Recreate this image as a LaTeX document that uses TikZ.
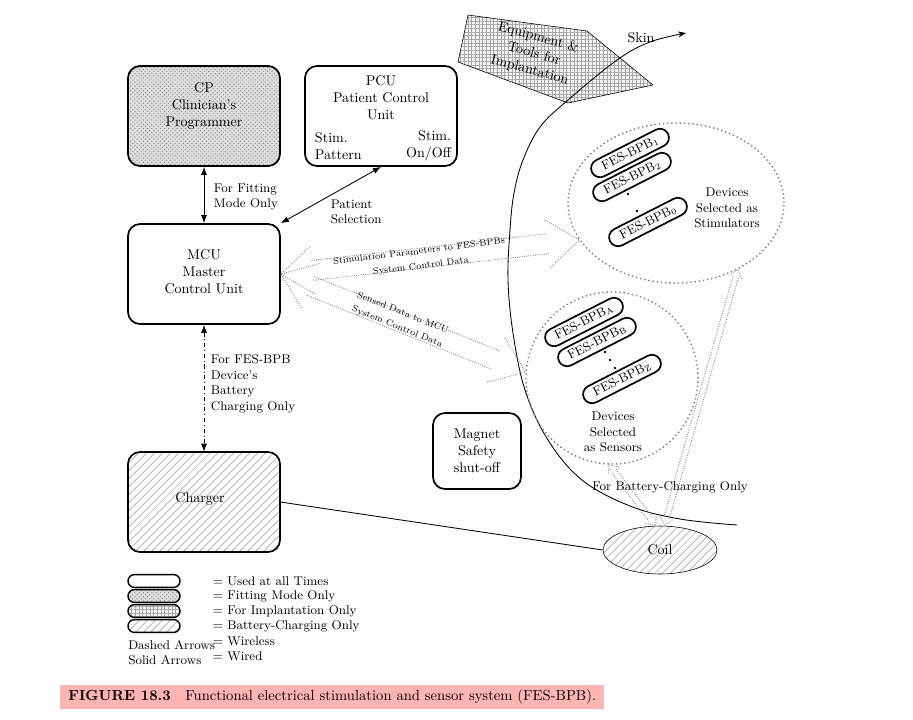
\documentclass[tikz,border=0pt]{standalone}
\usetikzlibrary{calc,shapes.geometric,shapes.misc,patterns,patterns.meta,arrows.meta}

\definecolor{capred}{RGB}{255,180,180}
\definecolor{paper}{RGB}{253,253,253}

\tikzset{
  unit/.style={draw, line width=1.2pt, rounded corners=3mm, minimum width=38mm, minimum height=25mm},
  fitting/.style={preaction={fill=gray!25}, pattern=crosshatch dots, pattern color=gray!90},
  charging/.style={pattern={Lines[angle=45,distance=4pt,line width=0.5pt]}, pattern color=gray!75},
  implant/.style={preaction={fill=gray!8}, pattern={Hatch[distance=2.6pt,line width=0.25pt]}, pattern color=gray!70},
  pill/.style={draw, line width=1.2pt, rounded rectangle, minimum width=22mm, minimum height=4.5mm, inner sep=1pt, font=\small},
  legendpill/.style={draw, line width=1pt, rounded rectangle, minimum width=13mm, minimum height=3.2mm, inner sep=0pt},
  wired/.style={line width=0.6pt, {Latex[length=2mm]}-{Latex[length=2mm]}},
  wireless/.style={gray, densely dotted, line width=0.6pt},
  zone/.style={draw=gray, dotted, line width=1pt},
  note/.style={font=\small, align=left, anchor=west},
  datatext/.style={font=\fontsize{6.5}{10.5}\selectfont, align=center},
}

% wireless link: head length, head half width, body half width, from, to
\newcommand\wlink[5]{%
  \draw[wireless] ($(#4)!#1!(#5)!#2!90:(#5)$) -- (#4) -- ($(#4)!#1!(#5)!#2!-90:(#5)$);
  \draw[wireless] ($(#5)!#1!(#4)!#2!90:(#4)$) -- (#5) -- ($(#5)!#1!(#4)!#2!-90:(#4)$);
  \draw[wireless] ($(#4)!#1!(#5)!#3!90:(#5)$) -- ($(#5)!#1!(#4)!#3!-90:(#4)$);
  \draw[wireless] ($(#4)!#1!(#5)!#3!-90:(#5)$) -- ($(#5)!#1!(#4)!#3!90:(#4)$);
}

\begin{document}
\begin{tikzpicture}[x=0.25mm, y=-0.25mm]
  \useasboundingbox (0,0) rectangle (913,719);
  \fill[paper] (127,14) rectangle (783,665);

  % units
  \node[unit, fitting] (CP) at (204,116) {};
  \node[align=center] (CPtext) at (204,106) {CP\\Clinician's\\Programmer};

  \node[unit] (PCU) at (381,116) {};
  \node[align=center] (PCUtext) at (381,98) {PCU\\Patient Control\\Unit};
  \node[align=left, anchor=west] (PCUpat) at (310,146) {Stim.\\Pattern};
  \node[align=right, anchor=east] (PCUon) at (456,146) {Stim.\\On/Off};

  \node[unit] (MCU) at (204,274) {};
  \node[align=center] (MCUtext) at (204,272) {MCU\\Master\\Control Unit};

  \node[unit, charging] (Charger) at (204,502) {};
  \node (Chtext) at (200,499) {Charger};

  \node[draw, line width=1.2pt, rounded corners=3mm, minimum width=22mm, minimum height=19mm,
        align=center] (Magnet) at (477,451) {Magnet\\Safety\\shut-off};

  \node[draw, ellipse, charging, minimum width=28.5mm, minimum height=12mm] (Coil) at (660,550) {Coil};

  % equipment and skin
  \draw[implant] (468,15) -- (587,31) -- (653,85) -- (568,103) -- (458,62) -- cycle;
  \node[align=center, rotate=-15] (Equip) at (534,54) {Equipment \&\\Tools for\\Implantation};

  \draw[line width=0.6pt, -{Stealth[length=2mm]}] plot[smooth, tension=0.6] coordinates {
    (737,525) (680,519) (630,506) (582,480) (548,440) (525,390) (513,333) (508,280)
    (510,230) (514,193) (523,160) (540,127) (568,100) (617,60) (650,42) (686,33)};
  \node (Skin) at (641,38) {Skin};

  % device groups
  \node[zone, ellipse, minimum width=54mm, minimum height=40mm] (Stim) at (676,203) {};
  \node[pill, rotate=27] (S1) at (630,153) {FES-BPB$_1$};
  \node[pill, rotate=27] (S2) at (632,177) {FES-BPB$_2$};
  \node[pill, rotate=27] (S0) at (648,222) {FES-BPB$_0$};
  \fill (628,194) circle[radius=0.35mm] (637,211) circle[radius=0.35mm];
  \node[font=\small, align=center] (StimText) at (727,208) {Devices\\Selected as\\Stimulators};

  \node[zone, circle, minimum size=43mm] (Sens) at (612,378) {};
  \node[pill, rotate=27] (SA) at (584,322) {FES-BPB$_\mathrm{A}$};
  \node[pill, rotate=27] (SB) at (597,342) {FES-BPB$_\mathrm{B}$};
  \node[pill, rotate=27] (SZ) at (622,379) {FES-BPB$_\mathrm{Z}$};
  \fill (605,352) circle[radius=0.35mm] (610,360) circle[radius=0.35mm] (615,368) circle[radius=0.35mm];
  \node[font=\small, align=center] (SensText) at (613,432) {Devices\\Selected\\as Sensors};

  % wired links
  \draw[wired] (CP.south) -- (MCU.north);
  \node[note] (FitText) at (209,197) {For Fitting\\Mode Only};
  \draw[wired] (PCU.south) -- (MCU.north east);
  \node[note] (SelText) at (326,212) {Patient\\Selection};
  \draw[wired, dash dot] (MCU.south) -- (Charger.north);
  \node[note] (ChgText) at (206,384) {For FES-BPB\\Device's\\Battery\\Charging Only};
  \draw[line width=0.6pt] (Charger.east) -- (Coil.west);

  % wireless links
  \wlink{8mm}{6mm}{2.5mm}{MCU.east}{Stim.201}
  \node[datatext, rotate=7] (StimData) at (420,259)
    {Stimulation Parameters to FES-BPBs\\System Control Data};
  \wlink{8mm}{6mm}{2.5mm}{MCU.east}{Sens.176}
  \node[datatext, rotate=-22] (SensData) at (400,320)
    {Sensed Data to MCU\\System Control Data};
  \wlink{2mm}{1.6mm}{0.7mm}{Sens.268}{Coil.100}
  \wlink{2mm}{1.6mm}{0.7mm}{Stim.313}{Coil.80}
  \node[font=\small] (BatText) at (670,487) {For Battery-Charging Only};

  % legend
  \node[legendpill, fill=white] (L1) at (154,581) {};
  \node[legendpill, fitting] (L2) at (154,596) {};
  \node[legendpill, implant] (L3) at (154,611) {};
  \node[legendpill, charging] (L4) at (154,626) {};
  \node[note] (T1) at (208,581) {= Used at all Times};
  \node[note] (T2) at (208,596) {= Fitting Mode Only};
  \node[note] (T3) at (208,611) {= For Implantation Only};
  \node[note] (T4) at (208,626) {= Battery-Charging Only};
  \node[note] (T5) at (208,641) {= Wireless};
  \node[note] (T6) at (208,656) {= Wired};
  \node[note, inner sep=0pt] (D1) at (128,645) {Dashed Arrows};
  \node[note, inner sep=0pt] (D2) at (128,660) {Solid Arrows};

  % caption
  \node[fill=capred, anchor=west, minimum width=136mm, minimum height=6.2mm, inner xsep=0.5mm,
        font=\fontsize{10.4}{12}\selectfont]
    (Caption) at (60,697) {\textbf{FIGURE 18.3}\quad Functional electrical stimulation and sensor system (FES-BPB).};
\end{tikzpicture}
\end{document}
